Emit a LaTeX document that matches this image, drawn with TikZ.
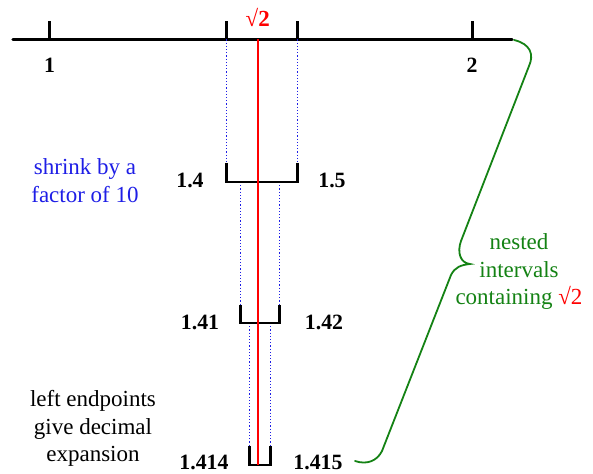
\documentclass[tikz,border=0pt]{standalone}
\usepackage{fontspec}
\setmainfont{Liberation Serif}
\definecolor{bracegreen}{RGB}{20,130,20}
\definecolor{guideblue}{RGB}{30,30,230}
\begin{document}
\begin{tikzpicture}[x=1pt,y=-1pt,
  lab/.style={font=\fontsize{21.8}{25}\selectfont\bfseries, inner sep=0pt, anchor=base},
  txt/.style={font=\fontsize{23}{27.5}\selectfont, align=center, inner sep=0pt, anchor=base},
  axis/.style={line width=3.3pt, line cap=round},
  tickmark/.style={line width=3pt},
  brk/.style={line width=2.8pt},
  guide/.style={guideblue, dotted, line width=1.2pt},
  root/.style={red, line width=2.3pt},
  bracecurve/.style={bracegreen, line width=1.8pt, line cap=round}]
\useasboundingbox (0,0) rectangle (593,473);

% number line
\coordinate (L) at (13,39.5);
\coordinate (R) at (512,39.5);
\coordinate (t1) at (49.5,39.5);
\coordinate (ta) at (226.7,39.5);
\coordinate (tb) at (297.3,39.5);
\coordinate (t2) at (472,39.5);
\coordinate (r0) at (257.7,39.5);
\draw[axis] (L) -- (R);
\foreach \t in {t1,ta,tb,t2} \draw[tickmark] (\t) -- ++(0,-18.5);

\node[lab] (one) at (49.5,73) {1};
\node[lab] (two) at (472,73) {2};
\node[lab, font=\fontsize{23}{27}\selectfont\bfseries, text=red] (sq) at (257.7,27) {√2};

% bracket 1
\coordinate (a1) at (226.7,163);
\coordinate (b1) at (297.3,163);
\coordinate (a1b) at (226.7,182);
\coordinate (b1b) at (297.3,182);
% bracket 2
\coordinate (a2) at (240.3,305);
\coordinate (b2) at (279.7,305);
\coordinate (a2b) at (240.3,323);
\coordinate (b2b) at (279.7,323);
\coordinate (a2u) at (240.3,182);
\coordinate (b2u) at (279.7,182);
% bracket 3
\coordinate (a3) at (249.3,446);
\coordinate (b3) at (270.7,446);
\coordinate (a3b) at (249.3,465);
\coordinate (b3b) at (270.7,465);
\coordinate (a3u) at (249.3,323);
\coordinate (b3u) at (270.7,323);
\coordinate (r1) at (257.7,465);

% guides
\draw[guide] (ta) -- (a1);
\draw[guide] (tb) -- (b1);
\draw[guide] (a2u) -- (a2);
\draw[guide] (b2u) -- (b2);
\draw[guide] (a3u) -- (a3);
\draw[guide] (b3u) -- (b3);

% brackets
\draw[brk] (a1) -- (a1b) -- (b1b) -- (b1);
\draw[brk] (a2) -- (a2b) -- (b2b) -- (b2);
\draw[brk] (a3) -- (a3b) -- (b3b) -- (b3);

% root line
\draw[root] (r0) -- (r1);

% labels
\node[lab] (l14) at (190,187) {1.4};
\node[lab] (l15) at (332,187) {1.5};
\node[lab] (l141) at (200,329.5) {1.41};
\node[lab] (l142) at (324,329.5) {1.42};
\node[lab] (l1414) at (204,469.5) {1.414};
\node[lab] (l1415) at (318,469.5) {1.415};

% side texts (base anchor = last line's baseline)
\node[txt, text=guideblue] (shrink) at (85,202) {shrink by a\\factor of 10};
\node[txt] (left) at (93,461.5) {left endpoints\\give decimal\\expansion};
\node[txt, text=bracegreen] (nested) at (519,304.5) {nested\\intervals\\containing \textcolor{red}{√2}};

% green brace
\coordinate (g0) at (514,40);
\coordinate (g1) at (529,66);
\coordinate (g2) at (461,241);
\coordinate (gtip) at (470,264);
\coordinate (g3) at (451,275);
\coordinate (g4) at (382,451);
\coordinate (g5) at (355,461);
\draw[bracecurve] (g0) .. controls (531,44) and (534,55) .. (g1)
  -- (g2) .. controls (457,252) and (460,263) .. (gtip)
  .. controls (461,265) and (455,267) .. (g3)
  -- (g4) .. controls (377,461) and (367,465) .. (g5);
\end{tikzpicture}
\end{document}
